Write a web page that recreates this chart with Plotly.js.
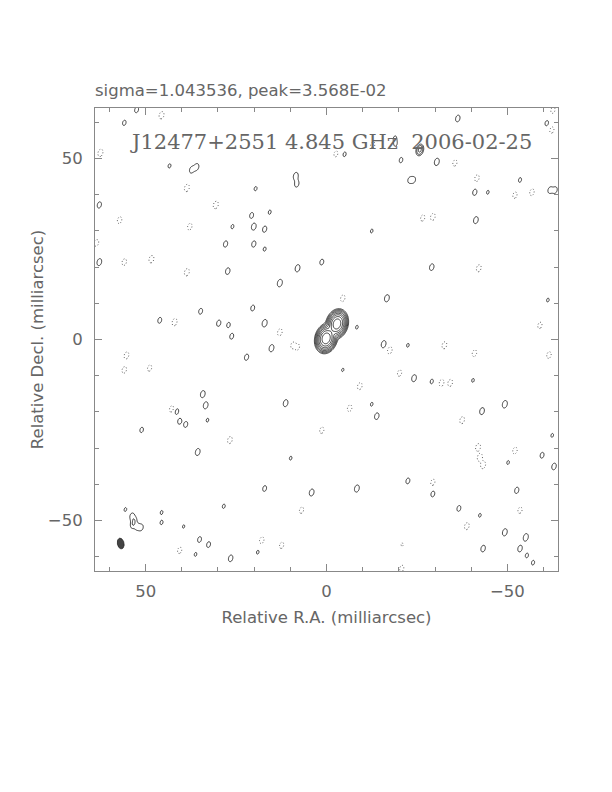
<!DOCTYPE html>
<html><head><meta charset="utf-8">
<script src="https://cdn.plot.ly/plotly-3.0.1.min.js"></script>
<style>html,body{margin:0;padding:0;background:#fff}</style>
</head><body>
<div id="chart" style="width:612px;height:792px"></div>
<script>
// ---- data (milliarcsec, flux in units of the lowest contour) ----
const mapHalf = 64;
const xTickVals = [50, 0, -50];
const xTickText = ['50', '0', '\u221250'];
const yTickVals = [-50, 0, 50];
const yTickText = ['\u221250', '0', '50'];
const contourLevels = [1, 2, 4, 8, 16, 32, 64, 128, 256];

// main source components
const srcRA  = [0.1, -2.9];
const srcDec = [0.3, 4.3];
const srcAmp = [250, 230];

// positive noise features
const posRA  = [52.5,55.9,43.4,37.3,35.9,19.6,20.7,26.0,20.1,17.1,15.7,27.9,20.1,17.1,62.8,62.8,27.3,12.9,8.5,8.2,8.0,1.3,20.4,17.1,15.2,-16.7,-8.4,-4.5,-22.5,-15.8,46.1,34.8,29.8,27.1,26.2,22.1,34.2,33.4,41.4,40.6,38.9,51.1,35.6,32.9,11.3,9.9,17.1,4.1,-8.4,-12.5,-13.9,-24.2,-29.1,-40.5,-49.3,-43.0,-62.4,-59.6,-62.9,-50.2,-22.5,-29.4,-52.6,-36.6,-42.4,-49.3,-55.1,-43.3,-53.5,-55.4,-57.1,55.6,53.8,53.1,53.6,52.3,51.2,45.6,45.6,39.5,35.1,32.6,36.2,26.5,28.4,19.0,-21.7,-20.6,-25.8,-30.5,-23.0,-24.1,-41.0,-44.6,-53.5,-61.8,-63.2,-60.9,-36.3,-18.9,-19.1,-5.0,-12.5,-41.3,-29.1,-61.2];
const posDec = [63.5,59.9,48.0,46.9,47.7,41.7,34.3,31.2,31.2,30.5,35.2,26.4,26.4,25.0,21.4,37.2,18.9,15.6,45.2,43.0,19.7,21.4,8.7,4.5,-2.4,11.4,3.4,-8.4,-1.6,-1.3,5.3,7.8,4.5,4.0,0.9,-4.9,-15.1,-18.2,-19.9,-22.6,-23.5,-25.0,-31.1,-22.3,-17.6,-32.8,-41.2,-42.3,-41.2,-17.9,-21.2,-10.7,-11.6,-11.3,-17.9,-19.8,-26.5,-32.0,-35.1,-34.0,-39.1,-42.7,-41.7,-46.7,-48.6,-53.3,-54.7,-57.8,-57.8,-59.7,-61.7,-47.0,-48.8,-50.0,-51.3,-51.8,-52.0,-47.8,-50.6,-51.7,-55.3,-56.7,-59.4,-60.5,-46.1,-58.8,-55.5,49.6,52.4,49.1,44.1,44.1,40.7,40.7,44.1,41.3,41.3,59.8,61.1,55.7,54.0,51.2,30.0,33.0,20.0,10.9];
const posAmp = [1.5,1.4,1.25,1.6,1.7,1.25,1.5,1.25,1.8,1.6,1.25,1.6,1.6,1.25,1.8,1.6,1.7,1.95,1.85,1.6,1.85,1.5,1.5,1.95,1.85,1.85,1.2,1.15,1.2,1.85,1.5,1.5,1.6,1.4,1.5,1.6,1.8,1.8,1.5,1.5,1.5,1.4,1.8,1.2,1.8,1.2,1.5,1.8,1.85,1.2,1.7,1.8,1.3,1.2,1.95,1.8,1.2,1.5,1.7,1.2,1.5,1.5,1.6,1.5,1.2,1.85,1.95,1.7,1.7,1.3,1.3,1.2,1.5,1.45,1.45,1.4,1.45,1.2,1.25,1.15,1.5,1.5,1.2,1.7,1.25,1.2,1.5,1.4,5.0,1.9,1.4,1.4,1.6,1.2,1.3,1.6,1.6,1.4,1.7,1.2,1.2,1.3,1.2,1.8,1.7,1.2];

// negative noise features (absolute values)
const negRA  = [45.6,62.5,38.6,30.6,57.2,37.8,63.6,55.9,48.4,38.6,12.9,9.3,8.0,-4.5,-17.5,42.0,55.3,55.9,48.9,42.8,26.7,1.3,-6.4,-9.2,-20.2,-32.6,-40.9,-31.8,-34.2,-37.5,-42.4,-41.9,-43.3,-52.1,-29.4,-38.8,-53.5,-21.1,-20.8,40.6,17.9,12.4,6.9,-29.4,-26.6,-42.1,-61.5,-59.0,-35.5,-41.6,-56.8,-52.1,-62.3,-2.6,-12.8,-62.6];
const negDec = [62.0,51.6,41.9,37.2,33.0,31.2,26.7,21.4,22.2,18.6,2.0,-1.6,-2.1,11.4,-3.0,4.8,-4.4,-8.4,-7.9,-19.2,-27.8,-25.1,-19.0,-12.9,-9.3,-1.6,-3.8,-12.0,-12.0,-22.3,-32.6,-29.8,-34.7,-30.7,-39.5,-51.6,-47.2,-56.4,-63.3,-58.3,-55.5,-56.9,-47.2,33.9,33.6,19.7,-4.3,3.9,48.8,44.6,40.7,39.9,57.9,51.3,53.8,63.4];
const negAmp = [1.9,1.95,1.9,1.95,1.7,1.7,1.7,1.7,1.9,1.9,1.8,1.6,1.5,1.7,1.8,1.9,1.8,1.7,1.6,1.7,1.8,1.6,1.7,1.8,1.6,1.8,1.7,1.8,1.8,1.8,1.95,1.9,1.9,1.7,1.6,1.8,1.6,1.7,1.6,1.6,1.7,1.6,1.6,1.8,1.6,1.8,1.7,1.6,1.6,1.7,1.7,1.6,1.6,1.5,1.6,1.6];

// restoring beam
const beamRA = [56.9], beamDec = [-56.4], beamMaj = [3.0], beamMin = [1.85], beamPA = [-12];

// ---- build map from the component lists ----
const step = 0.25;
const xs = [], ys = [];
for (let v = -mapHalf; v <= mapHalf + 1e-9; v += step) { xs.push(+v.toFixed(3)); ys.push(+v.toFixed(3)); }
const N = xs.length;
const field = Array.from({length: N}, () => new Float64Array(N));
const tilt = 15 * Math.PI / 180, ct = Math.cos(tilt), st = Math.sin(tilt);
function addComp(ra0, dec0, amp, sMin, sMaj) {
  const w = 5 * sMaj;
  const i0 = Math.max(0, Math.floor((ra0 - w + mapHalf) / step)), i1 = Math.min(N - 1, Math.ceil((ra0 + w + mapHalf) / step));
  const j0 = Math.max(0, Math.floor((dec0 - w + mapHalf) / step)), j1 = Math.min(N - 1, Math.ceil((dec0 + w + mapHalf) / step));
  for (let j = j0; j <= j1; j++) {
    const dy = ys[j] - dec0;
    for (let i = i0; i <= i1; i++) {
      const dx = -(xs[i] - ra0);
      const m = dx * st + dy * ct, n = dx * ct - dy * st;
      field[j][i] += amp * Math.exp(-0.5 * (n * n / (sMin * sMin) + m * m / (sMaj * sMaj)));
    }
  }
}
srcRA.forEach((r, k) => addComp(r, srcDec[k], srcAmp[k], 0.95, 1.3));
posRA.forEach((r, k) => addComp(r, posDec[k], posAmp[k], 0.58, 0.92));
negRA.forEach((r, k) => addComp(r, negDec[k], -negAmp[k], 0.58, 0.92));

const zPos = field.map(row => Array.from(row, v => Math.log2(Math.max(v, 1e-4))));
const zNeg = field.map(row => Array.from(row, v => Math.log2(Math.max(-v, 1e-4))));
const nLev = contourLevels.length;

// beam ellipse outline from beam parameters
const bx = [], by = [];
const bpa = beamPA[0] * Math.PI / 180;
for (let k = 0; k <= 60; k++) {
  const a = 2 * Math.PI * k / 60;
  const u = beamMin[0] / 2 * Math.cos(a), v = beamMaj[0] / 2 * Math.sin(a);
  bx.push(beamRA[0] + (u * Math.cos(bpa) - v * Math.sin(bpa)));
  by.push(beamDec[0] + (u * Math.sin(bpa) + v * Math.cos(bpa)));
}

const frameCol = '#888';
const txtCol = '#666';
const sansFont = {family: 'DejaVu Sans, Liberation Sans, sans-serif', size: 16.5, color: txtCol};

const traces = [
  {type: 'contour', x: xs, y: ys, z: zPos, autocontour: false,
   contours: {coloring: 'none', start: Math.log2(contourLevels[0]), end: Math.log2(contourLevels[nLev - 1]), size: 1},
   line: {color: '#111', width: 0.8, smoothing: 0.8}, showscale: false, hoverinfo: 'skip'},
  {type: 'contour', x: xs, y: ys, z: zNeg, autocontour: false,
   contours: {coloring: 'none', start: Math.log2(contourLevels[0]), end: Math.log2(contourLevels[0]) + 0.5, size: 1},
   line: {color: '#333', width: 0.8, dash: '1px,2px', smoothing: 0.8}, showscale: false, hoverinfo: 'skip'},
  {type: 'scatter', mode: 'lines', x: bx, y: by, fill: 'toself', fillcolor: '#444',
   line: {color: '#222', width: 0.8}, hoverinfo: 'skip', showlegend: false}
];

const axisCommon = {
  showgrid: false, zeroline: false, showline: true, linecolor: frameCol, linewidth: 1,
  mirror: 'ticks', ticks: 'inside', ticklen: 7, tickcolor: frameCol, tickwidth: 1,
  minor: {dtick: 10, tick0: 0, ticks: 'inside', ticklen: 4, tickcolor: frameCol, tickwidth: 1, showgrid: false},
  tickfont: sansFont, fixedrange: true
};

const layout = {
  width: 612, height: 792, paper_bgcolor: '#fff', plot_bgcolor: '#fff',
  margin: {l: 95, r: 54, t: 108, b: 221},
  showlegend: false,
  title: {text: 'sigma=1.043536, peak=3.568E-02', x: 95 / 612, xanchor: 'left', xref: 'container',
          y: 1 - 90 / 792, yref: 'container', yanchor: 'middle', font: sansFont},
  xaxis: Object.assign({}, axisCommon, {range: [mapHalf, -mapHalf], tickvals: xTickVals, ticktext: xTickText,
          ticklabelstandoff: 5,
          title: {text: 'Relative R.A. (milliarcsec)', font: sansFont, standoff: 11}}),
  yaxis: Object.assign({}, axisCommon, {range: [-mapHalf, mapHalf], tickvals: yTickVals, ticktext: yTickText,
          ticklabelstandoff: 8,
          title: {text: 'Relative Decl. (milliarcsec)', font: sansFont, standoff: 0}}),
  annotations: [{text: 'J12477+2551 4.845 GHz\u00a0\u00a02006-02-25', xref: 'paper', yref: 'paper',
    x: 0.51, y: 0.927, xanchor: 'center', yanchor: 'middle', showarrow: false,
    font: {family: 'DejaVu Serif, Liberation Serif, serif', size: 21, color: txtCol}}]
};

Plotly.newPlot('chart', traces, layout, {staticPlot: true, displayModeBar: false});
</script>
</body></html>
